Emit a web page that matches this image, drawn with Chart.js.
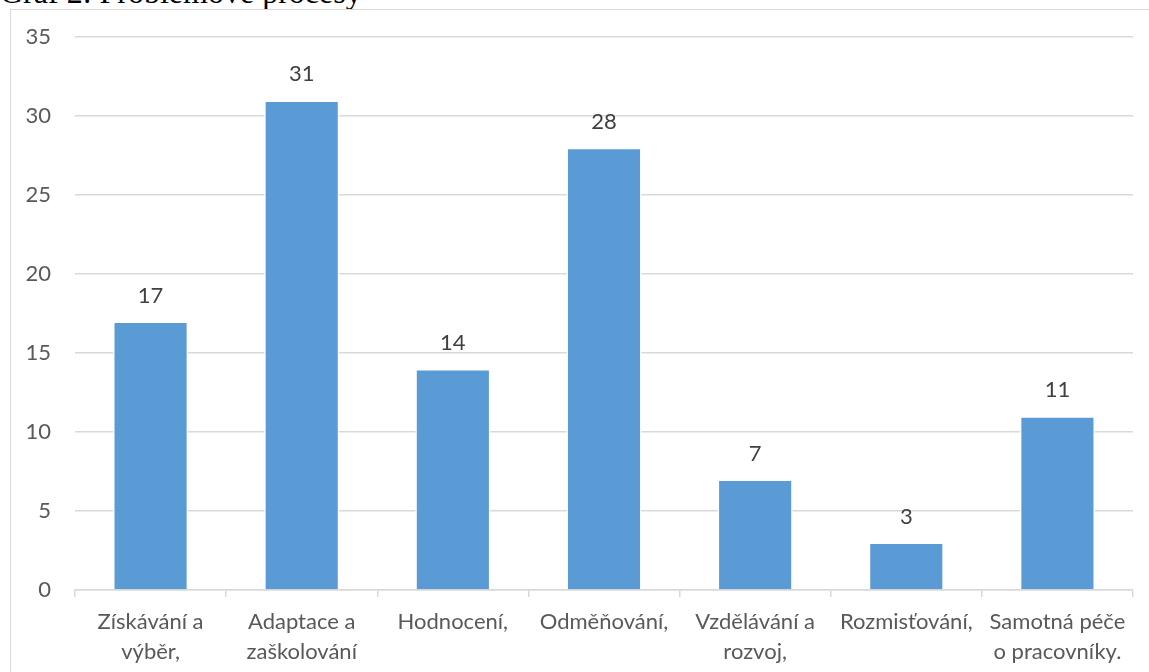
<!DOCTYPE html>
<html lang="cs">
<head>
<meta charset="utf-8">
<title>Graf 2: Problémové procesy</title>
<script src="https://cdn.jsdelivr.net/npm/chart.js@4/dist/chart.umd.min.js"></script>
<style>
  html, body { margin: 0; padding: 0; background: #ffffff; overflow: hidden; }
  #wrap { position: relative; width: 1149px; height: 672px; overflow: hidden; }
  #frame { position: absolute; left: 10px; top: 9px; width: 1200px; height: 700px;
           border: 1.5px solid #d9d9d9; box-sizing: border-box; }
  #caption { position: absolute; left: 0; top: -24px; font-family: "Liberation Serif", "Times New Roman", serif;
             font-size: 32px; color: #000; white-space: nowrap; line-height: 1; }
  #chart { position: absolute; left: 0; top: 0; }
</style>
</head>
<body>
<div id="wrap">
  <div id="caption">Graf 2: Problémové procesy</div>
  <div id="frame"></div>
  <canvas id="chart" width="1149" height="672"></canvas>
</div>
<script>
// Processes named as problematic and how many times each was mentioned
const categories = [
  ['Získávání a', 'výběr,'],
  ['Adaptace a', 'zaškolování'],
  'Hodnocení,',
  'Odměňování,',
  ['Vzdělávání a', 'rozvoj,'],
  'Rozmisťování,',
  ['Samotná péče', 'o pracovníky.']
];
const counts = [17, 31, 14, 28, 7, 3, 11];
const yTicks = [0, 5, 10, 15, 20, 25, 30, 35];

const FONT = 'Lato, "Open Sans", sans-serif';

// Writes each bar's value above it
const valueLabels = {
  id: 'valueLabels',
  afterDatasetsDraw(chart) {
    const ctx = chart.ctx;
    const meta = chart.getDatasetMeta(0);
    ctx.save();
    ctx.font = '22px ' + FONT;
    ctx.fillStyle = '#404040';
    ctx.textAlign = 'center';
    ctx.textBaseline = 'middle';
    meta.data.forEach((bar, i) => {
      ctx.fillText(String(counts[i]), bar.x, bar.y - 26);
    });
    ctx.restore();
  }
};

new Chart(document.getElementById('chart'), {
  type: 'bar',
  data: {
    labels: categories,
    datasets: [{
      data: counts,
      backgroundColor: '#5b9bd5',
      borderColor: '#ffffff',
      borderWidth: 1.5,
      borderSkipped: 'bottom',
      categoryPercentage: 1,
      barPercentage: 0.497
    }]
  },
  options: {
    responsive: false,
    animation: false,
    layout: { padding: { left: 0, right: 16, top: 37, bottom: 0 } },
    plugins: {
      legend: { display: false },
      title: { display: false },
      tooltip: { enabled: false }
    },
    scales: {
      x: {
        offset: true,
        grid: {
          offset: true,
          drawOnChartArea: false,
          drawTicks: true,
          tickLength: 7,
          color: '#d9d9d9',
          lineWidth: 1.5
        },
        border: { display: true, color: '#d9d9d9', width: 1.5 },
        ticks: {
          color: '#595959',
          font: { family: FONT, size: 22, lineHeight: 1.36 },
          padding: 10,
          maxRotation: 0,
          autoSkip: false
        },
        afterFit(axis) { axis.height = 82; }
      },
      y: {
        min: 0,
        max: 35,
        afterBuildTicks(axis) { axis.ticks = yTicks.map(v => ({ value: v })); },
        grid: { color: '#d9d9d9', lineWidth: 1.5, drawTicks: false },
        border: { display: false },
        ticks: {
          color: '#595959',
          font: { family: FONT, size: 22 },
          padding: 24
        },
        afterFit(axis) { axis.width = 75; }
      }
    }
  },
  plugins: [valueLabels]
});
</script>
</body>
</html>
